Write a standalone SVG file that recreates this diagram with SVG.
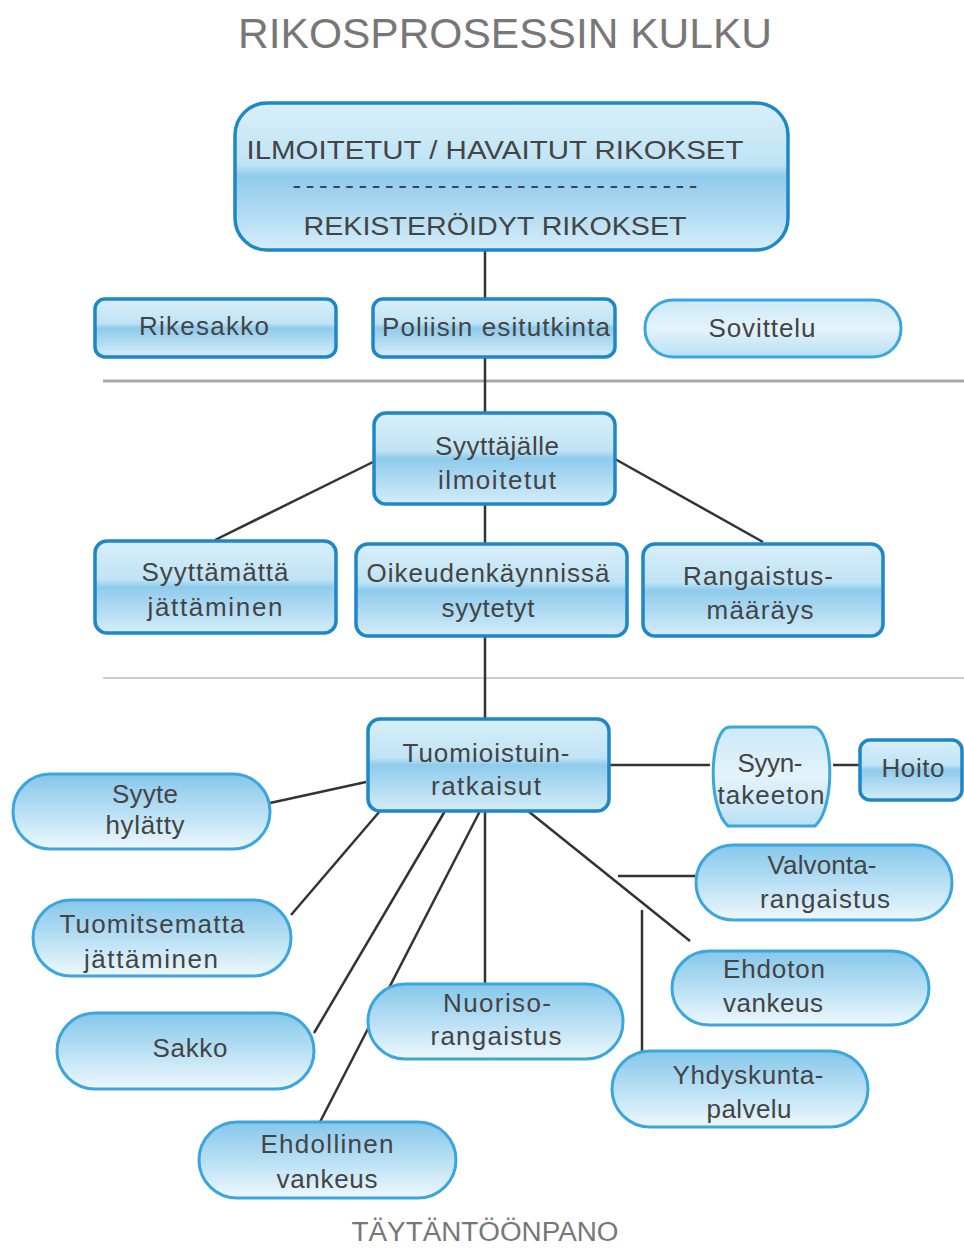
<svg xmlns="http://www.w3.org/2000/svg" width="964" height="1249" viewBox="0 0 964 1249">
<defs>
<linearGradient id="gloss" x1="0" y1="0" x2="0" y2="1">
<stop offset="0" stop-color="#d9eff9"/>
<stop offset="0.42" stop-color="#bfe3f5"/>
<stop offset="0.5" stop-color="#8fcbec"/>
<stop offset="1" stop-color="#d4edf9"/>
</linearGradient>
<linearGradient id="pill" x1="0" y1="0" x2="0" y2="1">
<stop offset="0" stop-color="#86c7ea"/>
<stop offset="0.55" stop-color="#bde2f5"/>
<stop offset="1" stop-color="#eef8fd"/>
</linearGradient>
<linearGradient id="pale" x1="0" y1="0" x2="0" y2="1">
<stop offset="0" stop-color="#cde9f8"/>
<stop offset="0.5" stop-color="#e3f3fb"/>
<stop offset="1" stop-color="#b9e0f4"/>
</linearGradient>
</defs>
<style>
.box{fill:url(#gloss);stroke:#1d87c7;stroke-width:3.5}
.pill{fill:url(#pill);stroke:#3aa6de;stroke-width:3}
.pale{fill:url(#pale);stroke:#3aa6de;stroke-width:3}
.t{font-family:"Liberation Sans",Arial,sans-serif;font-size:26px;fill:#444;text-anchor:middle}
.conn line{stroke:#333;stroke-width:2.5;fill:none}
.sep{stroke-linecap:butt}
.title{font-family:"Liberation Sans",Arial,sans-serif;fill:#777;text-anchor:middle}
</style>

<text class="title" x="505" y="48" font-size="43" textLength="534" lengthAdjust="spacingAndGlyphs">RIKOSPROSESSIN KULKU</text>

<g id="separators">
<line class="sep" x1="103" y1="381" x2="964" y2="381" stroke="#a8a8a8" stroke-width="3"/>
<line class="sep" x1="103" y1="678" x2="964" y2="678" stroke="#cfcfcf" stroke-width="2"/>
</g>

<g id="connectors" class="conn">
<line x1="485" y1="250" x2="485" y2="719"/>
<line x1="373" y1="462" x2="215" y2="540"/>
<line x1="615" y1="459" x2="763" y2="542"/>
<line x1="609" y1="765" x2="710" y2="765"/>
<line x1="833" y1="765" x2="860" y2="765"/>
<line x1="366" y1="782" x2="270" y2="803"/>
<line x1="380" y1="811" x2="291" y2="915"/>
<line x1="445" y1="811" x2="314" y2="1033"/>
<line x1="480" y1="811" x2="320" y2="1122"/>
<line x1="485" y1="811" x2="485" y2="984"/>
<line x1="528" y1="811" x2="690" y2="941"/>
<line x1="618" y1="876" x2="696" y2="876"/>
<line x1="642" y1="910" x2="642" y2="1051"/>
</g>

<g id="n-top">
<rect class="box" x="235" y="103" width="553" height="147" rx="32" stroke-width="4"/>
<text class="t" x="495" y="159" font-size="29" textLength="497" lengthAdjust="spacingAndGlyphs">ILMOITETUT / HAVAITUT RIKOKSET</text>
<text class="t" x="495" y="194" font-size="26" textLength="405" lengthAdjust="spacing">-------------------------------</text>
<text class="t" x="495" y="235" font-size="29" textLength="383" lengthAdjust="spacingAndGlyphs">REKISTERÖIDYT RIKOKSET</text>
</g>

<g id="n-rikesakko">
<rect class="box" x="95" y="299" width="241" height="58" rx="10"/>
<text class="t" x="204" y="335" textLength="130">Rikesakko</text>
</g>
<g id="n-poliisin">
<rect class="box" x="373" y="299" width="242" height="58" rx="10"/>
<text class="t" x="496" y="336" textLength="228">Poliisin esitutkinta</text>
</g>
<g id="n-sovittelu">
<rect class="pale" x="645" y="300" width="256" height="57" rx="28"/>
<text class="t" x="762" y="337" textLength="107">Sovittelu</text>
</g>

<g id="n-syyttajalle">
<rect class="box" x="374" y="413" width="241" height="91" rx="12"/>
<text class="t" x="497" y="455" textLength="124">Syyttäjälle</text>
<text class="t" x="497" y="489" textLength="118">ilmoitetut</text>
</g>

<g id="n-syyttamatta">
<rect class="box" x="95" y="541" width="241" height="92" rx="12"/>
<text class="t" x="215" y="581" textLength="147">Syyttämättä</text>
<text class="t" x="215" y="616" textLength="135">jättäminen</text>
</g>
<g id="n-oikeudenkaynnissa">
<rect class="box" x="356" y="544" width="271" height="92" rx="12"/>
<text class="t" x="488" y="582" textLength="243">Oikeudenkäynnissä</text>
<text class="t" x="488" y="617" textLength="93">syytetyt</text>
</g>
<g id="n-rangaistusmaarays">
<rect class="box" x="643" y="544" width="240" height="92" rx="12"/>
<text class="t" x="758" y="585" textLength="150">Rangaistus-</text>
<text class="t" x="760" y="619" textLength="107">määräys</text>
</g>

<g id="n-tuomioistuin">
<rect class="box" x="368" y="719" width="241" height="92" rx="12"/>
<text class="t" x="486" y="762" textLength="167">Tuomioistuin-</text>
<text class="t" x="486" y="795" textLength="110">ratkaisut</text>
</g>

<g id="n-syyntakeeton">
<path class="pale" d="M730 727 H813 C834 727 836 808 815 826 H728 C707 808 709 727 730 727 Z"/>
<text class="t" x="770" y="772" textLength="65">Syyn-</text>
<text class="t" x="771" y="804" textLength="107">takeeton</text>
</g>
<g id="n-hoito">
<rect class="box" x="860" y="740" width="102" height="60" rx="10"/>
<text class="t" x="913" y="777" textLength="63">Hoito</text>
</g>

<g id="n-syyte">
<rect class="pill" x="13" y="774" width="257" height="75" rx="37"/>
<text class="t" x="145" y="803" textLength="66">Syyte</text>
<text class="t" x="145" y="834" textLength="79">hylätty</text>
</g>
<g id="n-tuomitsematta">
<rect class="pill" x="33" y="900" width="258" height="76" rx="38"/>
<text class="t" x="152" y="933" textLength="185">Tuomitsematta</text>
<text class="t" x="151" y="968" textLength="134">jättäminen</text>
</g>
<g id="n-sakko">
<rect class="pill" x="57" y="1013" width="257" height="76" rx="38"/>
<text class="t" x="190" y="1057" textLength="75">Sakko</text>
</g>
<g id="n-nuoriso">
<rect class="pill" x="368" y="984" width="255" height="75" rx="37"/>
<text class="t" x="497" y="1012" textLength="108">Nuoriso-</text>
<text class="t" x="496" y="1045" textLength="131">rangaistus</text>
</g>
<g id="n-ehdollinen">
<rect class="pill" x="199" y="1122" width="257" height="76" rx="38"/>
<text class="t" x="327" y="1153" textLength="133">Ehdollinen</text>
<text class="t" x="327" y="1188" textLength="101">vankeus</text>
</g>
<g id="n-valvonta">
<rect class="pill" x="696" y="845" width="256" height="75" rx="37"/>
<text class="t" x="822" y="874" textLength="109">Valvonta-</text>
<text class="t" x="825" y="908" textLength="130">rangaistus</text>
</g>
<g id="n-ehdoton">
<rect class="pill" x="672" y="951" width="257" height="74" rx="37"/>
<text class="t" x="774" y="978" textLength="102">Ehdoton</text>
<text class="t" x="773" y="1012" textLength="100">vankeus</text>
</g>
<g id="n-yhdyskunta">
<rect class="pill" x="612" y="1051" width="256" height="76" rx="38"/>
<text class="t" x="748" y="1084" textLength="151">Yhdyskunta-</text>
<text class="t" x="749" y="1118" textLength="85">palvelu</text>
</g>

<text class="title" x="485" y="1241" font-size="27" textLength="267" lengthAdjust="spacingAndGlyphs">TÄYTÄNTÖÖNPANO</text>
</svg>
